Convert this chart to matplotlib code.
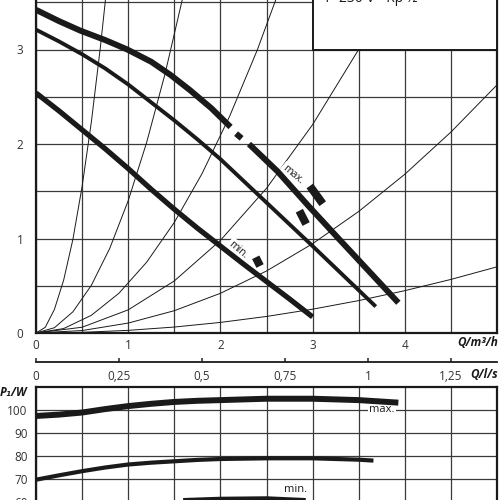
import numpy as np
import matplotlib.pyplot as plt
from matplotlib.patches import Rectangle

plt.rcParams['font.family'] = ['Open Sans', 'DejaVu Sans']

# ---- head curves H(Q), Q in m3/h, H in m ----
# max curve is broken into pieces (gaps near the label)
q_max_a = [0, 0.25, 0.48, 0.75, 0.99, 1.25, 1.46, 1.67, 1.9, 2.11]
h_max_a = [3.42, 3.30, 3.20, 3.10, 3.0, 2.87, 2.73, 2.57, 2.38, 2.18]
q_max_b = [2.17, 2.23]
h_max_b = [2.11, 2.06]
q_max_c = [2.31, 2.62, 2.95, 3.30, 3.93]
h_max_c = [2.0, 1.71, 1.35, 0.98, 0.32]

q_mid = [0, 0.25, 0.5, 0.75, 1.0, 1.25, 1.5, 1.75, 2.0, 2.5, 3.0, 3.3, 3.685]
h_mid = [3.21, 3.085, 2.95, 2.80, 2.63, 2.44, 2.25, 2.05, 1.84, 1.38, 0.92, 0.64, 0.28]

q_min = [0, 0.25, 0.5, 0.75, 1.0, 1.25, 1.5, 1.75, 2.0, 2.25, 2.5, 2.75, 3.0]
h_min = [2.54, 2.35, 2.15, 1.95, 1.74, 1.52, 1.31, 1.11, 0.92, 0.73, 0.545, 0.36, 0.17]

# small marks next to the curves
q_marks = [[2.97, 3.11], [2.856, 2.93], [2.383, 2.43]]
h_marks = [[1.556, 1.368], [1.294, 1.153], [0.801, 0.709]]

# system curves (thin)
sys_q = [
    [0, 0.1, 0.2, 0.3, 0.4, 0.5, 0.6, 0.7, 0.78],
    [0, 0.2, 0.4, 0.6, 0.8, 1.0, 1.2, 1.4, 1.6],
    [0, 0.3, 0.6, 0.9, 1.2, 1.5, 1.8, 2.1, 2.4, 2.7],
    [0, 0.5, 1.0, 1.5, 2.0, 2.5, 3.0, 3.5, 3.8],
    [0, 0.5, 1.0, 1.5, 2.0, 2.5, 3.0, 3.5, 4.0, 4.5, 5.0],
    [0, 0.5, 1.0, 1.5, 2.0, 2.5, 3.0, 3.5, 4.0, 4.5, 5.0],
]
sys_h = [
    [0, 0.06, 0.25, 0.56, 0.99, 1.55, 2.23, 3.04, 3.77],
    [0, 0.056, 0.224, 0.504, 0.896, 1.4, 2.016, 2.744, 3.584],
    [0, 0.047, 0.187, 0.421, 0.749, 1.17, 1.685, 2.293, 2.995, 3.79],
    [0, 0.061, 0.245, 0.551, 0.98, 1.531, 2.205, 3.001, 3.54],
    [0, 0.026, 0.105, 0.236, 0.42, 0.656, 0.945, 1.286, 1.68, 2.126, 2.625],
    [0, 0.007, 0.028, 0.063, 0.112, 0.175, 0.252, 0.343, 0.448, 0.567, 0.70],
]

# ---- power curves P1(Q) ----
qp_max = [0, 0.25, 0.5, 0.75, 1.0, 1.25, 1.5, 1.75, 2.0, 2.5, 3.0, 3.5, 3.93]
p_max = [97.4, 98.0, 98.9, 100.4, 101.7, 102.7, 103.5, 104.0, 104.3, 104.9, 104.9, 104.3, 103.2]
qp_mid = [0, 0.25, 0.5, 0.75, 1.0, 1.25, 1.5, 1.75, 2.0, 2.5, 3.0, 3.5, 3.66]
p_mid = [69.7, 71.6, 73.4, 75.0, 76.3, 77.1, 77.7, 78.3, 78.7, 79.0, 79.0, 78.4, 78.0]
qp_min = [0, 0.5, 1.0, 1.5, 2.0, 2.5, 3.0]
p_min = [54.0, 56.5, 58.8, 60.3, 61.0, 61.2, 60.3]

ls_ticks = [0, 0.25, 0.5, 0.75, 1, 1.25]
ls_labels = ['0', '0,25', '0,5', '0,75', '1', '1,25']

ink = '#1a1a1a'
grid_c = '#3a3a3a'
fs = 8.5

fig = plt.figure(figsize=(5, 5), dpi=100)

# ---------- head diagram ----------
ax = fig.add_axes([0.072, 0.334, 0.922, 0.6804])
ax.set_xlim(0, 5)
ax.set_ylim(0, 3.6)
ax.set_xticks([0, 1, 2, 3, 4])
ax.set_xticks(np.arange(0, 5.01, 0.5), minor=True)
ax.set_yticks([0, 1, 2, 3])
ax.set_yticks(np.arange(0, 3.6, 0.5), minor=True)
ax.grid(True, which='both', color=grid_c, lw=0.9)
ax.set_axisbelow(True)
ax.tick_params(which='both', length=0, labelsize=fs, colors='#333333')
ax.tick_params(axis='x', pad=4)
ax.tick_params(axis='y', pad=9)
for s in ['left', 'bottom', 'right']:
    ax.spines[s].set_linewidth(1.6)
    ax.spines[s].set_color(ink)
ax.spines['top'].set_visible(False)

for qs, hs in zip(sys_q, sys_h):
    ax.plot(qs, hs, color=ink, lw=0.7, zorder=2)

kw = dict(color=ink, solid_capstyle='butt', solid_joinstyle='round', zorder=4)
ax.plot(q_max_a, h_max_a, lw=4.3, **kw)
ax.plot(q_max_b, h_max_b, lw=4.3, **kw)
ax.plot(q_max_c, h_max_c, lw=4.3, **kw)
ax.plot(q_mid, h_mid, lw=2.8, **kw)
ax.plot(q_min, h_min, lw=3.8, **kw)
for qs, hs in zip(q_marks, h_marks):
    ax.plot(qs, hs, lw=5.8, **kw)

lbl = dict(fontsize=7.5, color=ink, ha='center', va='center', rotation=-40,
           rotation_mode='anchor', zorder=3,
           bbox=dict(fc='white', ec='none', pad=1.2))
ax.text(2.78, 1.672, 'max.', **lbl)
ax.text(2.194, 0.878, 'min.', **lbl)

ax.add_patch(Rectangle((3.0, 3.0), 2.0, 1.0, fc='white', ec=ink, lw=1.4, zorder=5))
fig.text(0.646, 1 - 1.5 / 500, '1~230 V - Rp ½', fontsize=10, color=ink, va='baseline')

fig.text(0.996, 0.314, 'Q/m³/h', fontsize=fs, fontweight='bold', style='italic',
         ha='right', va='center', color=ink)

# ---------- l/s scale ----------
axs = fig.add_axes([0.072, 0.276, 0.922, 0.001])
axs.set_xlim(0, 5 / 3.6)
axs.set_ylim(0, 1)
axs.set_yticks([])
axs.set_xticks(ls_ticks)
axs.set_xticklabels(ls_labels)
axs.tick_params(axis='x', direction='in', length=3, width=1.2, pad=6,
                labelsize=fs, colors='#333333')
for s in ['left', 'top', 'right']:
    axs.spines[s].set_visible(False)
axs.spines['bottom'].set_linewidth(1.3)
axs.spines['bottom'].set_color(ink)
axs.patch.set_visible(False)
fig.text(0.996, 0.25, 'Q/l/s', fontsize=fs, fontweight='bold', style='italic',
         ha='right', va='center', color=ink)

# ---------- power diagram ----------
axp = fig.add_axes([0.072, -0.05, 0.922, 0.276])
axp.set_xlim(0, 5)
axp.set_ylim(50, 110)
axp.set_xticks(np.arange(0, 5.01, 0.5))
axp.set_xticklabels([])
axp.set_yticks([60, 70, 80, 90, 100])
axp.grid(True, color=grid_c, lw=0.9)
axp.set_axisbelow(True)
axp.tick_params(length=0, labelsize=fs, colors='#333333')
axp.tick_params(axis='y', pad=6)
for s in ['left', 'top', 'right', 'bottom']:
    axp.spines[s].set_linewidth(1.6)
    axp.spines[s].set_color(ink)

axp.plot(qp_max, p_max, lw=4.3, **kw)
axp.plot(qp_mid, p_mid, lw=3.0, **kw)
axp.plot(qp_min, p_min, lw=4.3, **kw)

lblp = dict(fontsize=8, color=ink, ha='center', va='center', zorder=3,
            bbox=dict(fc='white', ec='none', pad=1.0))
axp.text(3.75, 100, 'max.', **lblp)
axp.text(2.81, 65.3, 'min.', **lblp)

fig.text(0.0, 0.214, 'P₁/W', fontsize=fs, fontweight='bold', style='italic',
         ha='left', va='center', color=ink)

fig.savefig('out.png', dpi=100)
